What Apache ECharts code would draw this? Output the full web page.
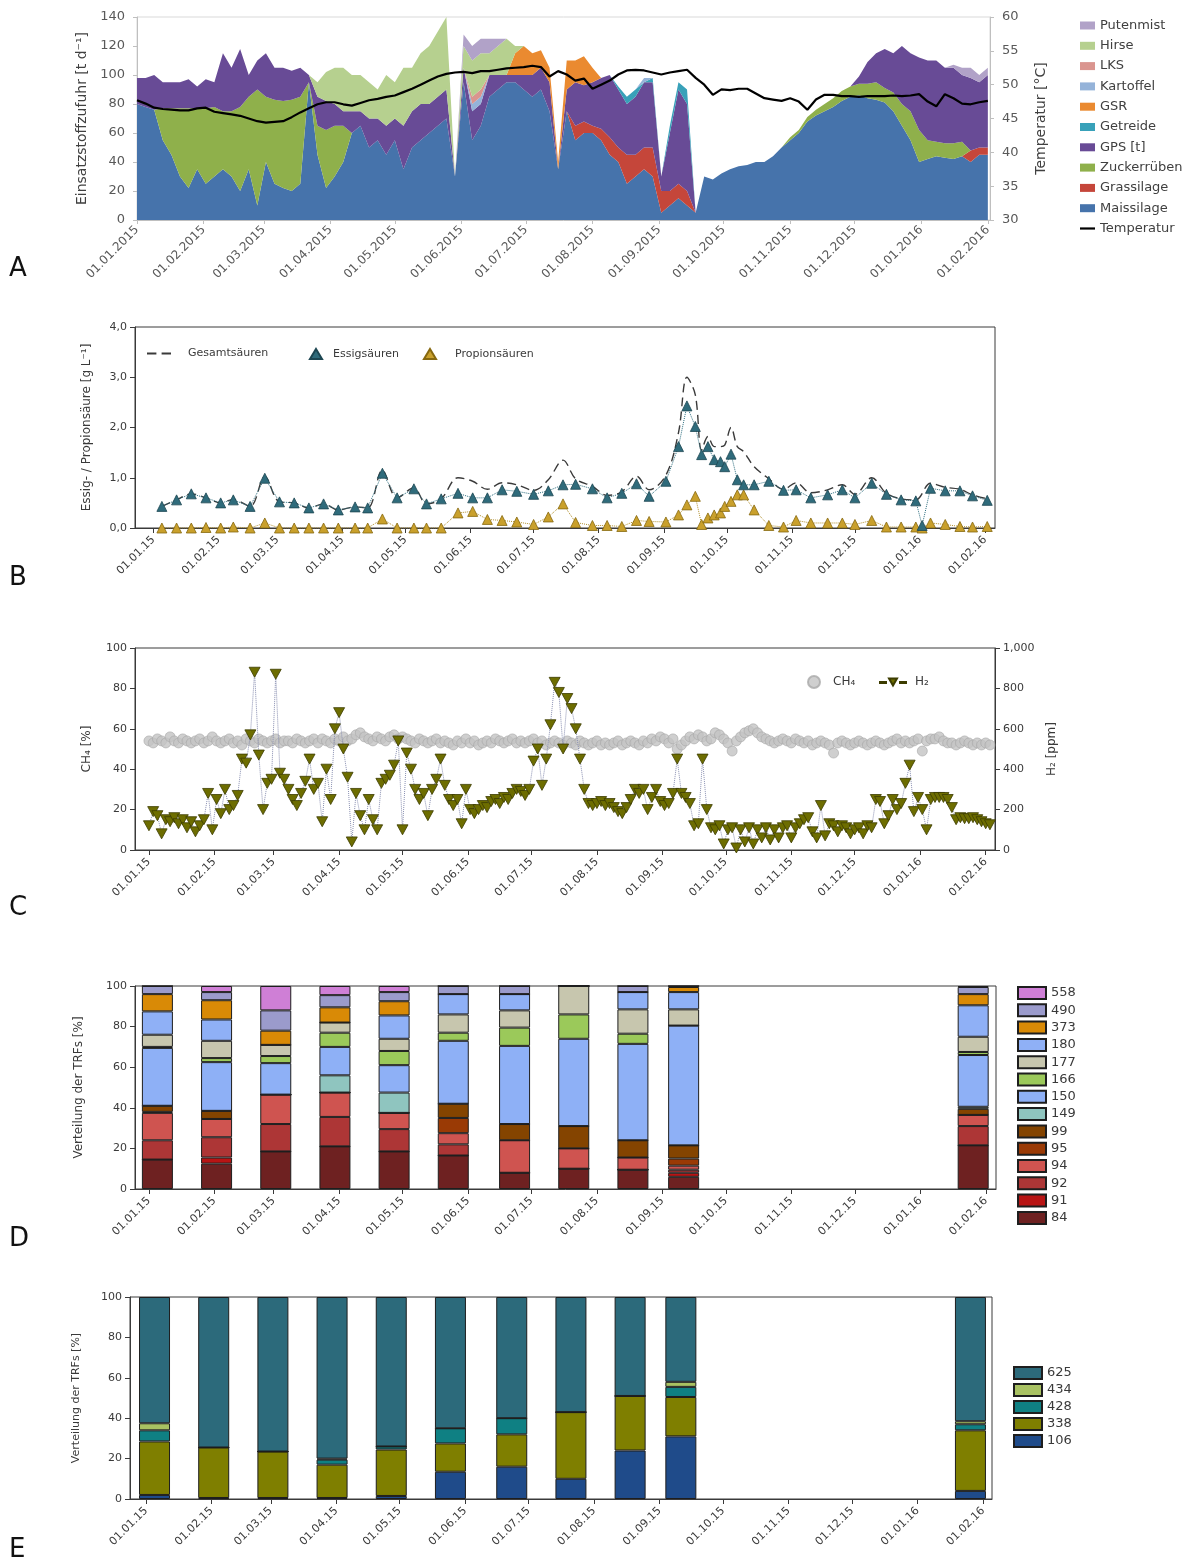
<!DOCTYPE html>
<html><head><meta charset="utf-8">
<script src="https://cdn.jsdelivr.net/npm/echarts@6/dist/echarts.min.js"></script>
<style>html,body{margin:0;padding:0;background:#fff}#c{width:1188px;height:1566px}</style>
</head><body><div id="c"></div>
<script>
// ---------- tick labels (month starts) ----------
const monthTicks = ['2015-01-01','2015-02-01','2015-03-01','2015-04-01','2015-05-01','2015-06-01','2015-07-01',
  '2015-08-01','2015-09-01','2015-10-01','2015-11-01','2015-12-01','2016-01-01','2016-02-01'];

// ---------- Panel A: feedstock input (t/d), sampled every 4 days from 01.01.2015 ----------
const feedStart = '2015-01-01';
const feedStepDays = 4;
const maissilage = [80,78,76,55,45,30,22,35,25,30, 35,30,20,35,10,40,25,22,20,25, 95,45,22,30,40,60,65,50,55,45,
  55,35,50,55,60,65,70,30,95,55, 65,85,90,95,95,90,85,90,75,35, 75,55,60,60,55,45,40,25,30,35,
  30,5,10,15,10,5,30,28,32,35, 37,38,40,40,44,50,55,60,68,72, 75,78,82,85,86,84,83,81,75,65, 55,40,42,44,43,42,44,40,45,45];
const grassilage = [0,0,0,0,0,0,0,0,0,0, 0,0,0,0,0,0,0,0,0,0, 0,0,0,0,0,0,0,0,0,0, 0,0,0,0,0,0,0,0,0,0, 0,0,0,0,0,0,0,0,0,0,
  0,10,8,5,8,12,10,20,15,15, 20,15,10,10,10,0,0,0,0,0, 0,0,0,0,0,0,0,0,0,0, 0,0,0,0,0,0,0,0,0,0, 0,0,0,0,0,0,0,8,5,5];
const zuckerrueben = [0,0,0,22,32,47,55,42,52,48, 40,45,58,50,80,45,58,60,63,60, 0,20,40,35,25,0,0,0,0,0, 0,0,0,0,0,0,0,0,0,0,
  0,0,0,0,0,0,0,0,0,0, 0,0,0,0,0,0,0,0,0,0, 0,0,0,0,0,0,0,0,0,0, 0,0,0,0,0,0,2,2,3,4, 5,6,7,7,8,10,12,10,13,15, 20,22,13,10,10,11,10,0,0,0];
const gps = [18,20,24,18,18,18,20,15,20,17, 40,30,40,15,20,30,22,23,20,20, 5,20,20,15,10,15,10,20,15,20, 15,30,25,25,20,20,20,0,10,20,
  15,15,10,5,5,10,15,15,20,0, 15,30,25,30,35,43,40,35,40,45, 45,10,40,65,60,0,0,0,0,0, 0,0,0,0,0,0,0,0,0,0, 0,0,0,0,5,15,20,27,27,40, 40,50,55,56,52,52,46,50,45,50];
const getreide = [0,0,0,0,0,0,0,0,0,0, 0,0,0,0,0,0,0,0,0,0, 0,0,0,0,0,0,0,0,0,0, 0,0,0,0,0,0,0,0,0,0, 0,0,0,0,0,0,0,0,0,0,
  0,0,0,0,0,0,2,5,5,0, 3,0,5,5,10,0,0,0,0,0, 0,0,0,0,0,0,0,0,0,0, 0,0,0,0,0,0,0,0,0,0, 0,0,0,0,0,0,0,0,0,0];
const gsr = [0,0,0,0,0,0,0,0,0,0, 0,0,0,0,0,0,0,0,0,0, 0,0,0,0,0,0,0,0,0,0, 0,0,0,0,0,0,0,0,0,0, 0,0,0,0,15,20,15,12,10,5,
  20,15,20,10,0,0,0,0,0,0, 0,0,0,0,0,0,0,0,0,0, 0,0,0,0,0,0,0,0,0,0, 0,0,0,0,0,0,0,0,0,0, 0,0,0,0,0,0,0,0,0,0];
const kartoffel = [0,0,0,0,0,0,0,0,0,0, 0,0,0,0,0,0,0,0,0,0, 0,0,0,0,0,0,0,0,0,0, 0,0,0,0,0,0,0,0,0,5, 5,0,0,0,0,0,0,0,0,0,
  0,0,0,0,0,0,0,0,0,3, 0,0,0,0,0,0,0,0,0,0, 0,0,0,0,0,0,0,0,0,0, 0,0,0,0,0,0,0,0,0,0, 0,0,0,0,0,0,0,0,0,0];
const lks = [0,0,0,0,0,0,0,0,0,0, 0,0,0,0,0,0,0,0,0,0, 0,0,0,0,0,0,0,0,0,0, 0,0,0,0,0,0,0,0,0,5, 5,0,0,0,0,0,0,0,0,0,
  0,0,0,0,0,0,0,0,0,0, 0,0,0,0,0,0,0,0,0,0, 0,0,0,0,0,0,0,0,0,0, 0,0,0,0,0,0,0,0,0,0, 0,0,0,0,0,0,0,0,0,0];
const hirse = [0,0,0,0,0,0,0,0,0,0, 0,0,0,0,0,0,0,0,0,0, 0,10,20,25,30,25,25,25,20,35, 25,40,30,35,40,45,50,0,15,25,
  25,15,20,25,5,0,0,0,0,0, 0,0,0,0,0,0,0,0,0,0, 0,0,0,0,0,0,0,0,0,0, 0,0,0,0,0,0,0,0,0,0, 0,0,0,0,0,0,0,0,0,0, 0,0,0,0,0,0,0,0,0,0];
const putenmist = [0,0,0,0,0,0,0,0,0,0, 0,0,0,0,0,0,0,0,0,0, 0,0,0,0,0,0,0,0,0,0, 0,0,0,0,0,0,0,0,8,10,
  10,10,5,0,0,0,0,0,0,0, 0,0,0,0,0,0,0,0,0,0, 0,0,0,0,0,0,0,0,0,0, 0,0,0,0,0,0,0,0,0,0, 0,0,0,0,0,0,0,0,0,0, 0,0,0,0,0,2,5,7,5,5];
const temperatur = [47.7,47.2,46.6,46.4,46.3,46.2,46.2,46.5,46.6,46.0, 45.8,45.6,45.4,45.0,44.6,44.4,44.5,44.6,45.2,45.9,
  46.5,47.1,47.4,47.4,47.1,46.9,47.3,47.7,47.9,48.2, 48.4,48.9,49.4,50.0,50.6,51.2,51.6,51.8,51.9,51.7,
  52.0,52.0,52.2,52.4,52.5,52.6,52.8,52.6,51.2,52.0, 51.5,50.6,50.9,49.4,50.0,50.6,51.5,52.1,52.2,52.1,
  51.8,51.5,51.8,52.0,52.2,51.0,50.0,48.5,49.3,49.2, 49.4,49.4,48.7,48.0,47.8,47.6,48.0,47.5,46.3,47.8,
  48.5,48.5,48.3,48.3,48.2,48.3,48.3,48.3,48.4,48.3, 48.4,48.6,47.5,46.8,48.6,48.0,47.2,47.1,47.4,47.6];

// ---------- Panel B: acids (g/L), sampling day offsets from 01.01.2015 ----------
const acidDays = [4,11,18,25,32,38,46,53,60,67, 74,81,88,96,102,109,116,124,130,137, 145,152,159,166,173,181,188,195,201,209,
  216,223,230,236,244,250,254,258,261,264, 267,270,272,275,278,281,286,293,300,306, 313,321,328,334,342,349,356,363,366,370, 377,384,390,397];
const essigsaeure = [0.43,0.56,0.68,0.60,0.50,0.56,0.43,0.99,0.52,0.50, 0.40,0.48,0.36,0.42,0.40,1.09,0.60,0.78,0.48,0.58,
  0.69,0.60,0.60,0.76,0.73,0.67,0.74,0.86,0.87,0.78, 0.60,0.69,0.88,0.63,0.93,1.62,2.43,2.02,1.46,1.62,
  1.36,1.32,1.22,1.47,0.96,0.86,0.86,0.93,0.75,0.76, 0.60,0.66,0.76,0.60,0.89,0.67,0.56,0.54,0.05,0.79, 0.74,0.74,0.64,0.55];
const propionsaeure = [0,0,0,0.01,0,0.02,0,0.10,0,0, 0,0,0,0,0,0.18,0,0,0,0,
  0.30,0.33,0.17,0.15,0.12,0.07,0.22,0.48,0.11,0.05, 0.05,0.03,0.15,0.13,0.12,0.26,0.46,0.63,0.07,0.20,
  0.26,0.30,0.43,0.53,0.66,0.66,0.36,0.05,0.02,0.15, 0.10,0.10,0.10,0.07,0.15,0.02,0.02,0.02,0,0.10, 0.07,0.03,0.02,0.03];
const gesamtsaeuren = [0.43,0.56,0.68,0.60,0.50,0.57,0.43,1.02,0.52,0.50, 0.40,0.48,0.36,0.42,0.40,1.15,0.60,0.80,0.48,0.58,
  1.00,0.93,0.77,0.90,0.86,0.75,0.96,1.35,0.98,0.83, 0.65,0.72,1.03,0.76,1.05,1.90,3.00,2.65,1.55,1.82,
  1.62,1.62,1.65,2.00,1.62,1.52,1.22,0.98,0.77,0.90, 0.70,0.76,0.86,0.67,1.00,0.69,0.58,0.56,null,0.89, 0.81,0.77,0.66,0.58];

// ---------- Panel C: CH4 (%) and H2 (ppm), every 2 days from 01.01.2015 ----------
const gasStepDays = 2;
const ch4 = [54,53,55,54,53,56,54,53,55,54, 53,54,55,53,54,56,54,53,54,55, 53,54,52,55,54,53,55,54,53,54, 55,53,54,54,53,55,54,53,54,55,
  53,55,54,53,55,54,56,54,55,57, 58,56,55,54,56,55,54,56,57,55, 56,55,54,53,55,54,53,54,55,53, 54,53,52,54,53,55,53,54,52,53,
  54,53,55,54,53,54,55,53,54,53, 54,55,53,54,52,53,54,53,52,54, 53,52,54,53,52,53,54,52,53,52, 53,54,52,53,54,53,52,54,53,55,
  54,56,55,53,55,50,52,54,56,55, 57,56,54,55,58,57,55,53,49,54, 56,58,59,60,58,56,55,54,53,54, 55,54,53,55,54,53,54,52,53,54,
  53,52,48,53,54,53,52,53,54,53, 52,53,54,53,52,53,54,55,53,54, 53,54,55,49,54,55,55,56,54,53, 53,52,53,54,53,52,53,52,53,52];
const h2 = [120,190,170,80,150,140,160,130,150,110, 140,90,120,150,280,100,250,180,300,200, 220,270,450,430,570,880,470,200,330,350,
  870,380,350,300,250,220,280,340,450,300, 330,140,400,250,600,680,500,360,40,280, 170,100,250,150,100,330,350,370,420,540,
  100,480,400,300,250,280,170,300,350,450, 320,250,220,250,130,300,200,180,200,220, 210,240,250,230,260,250,280,300,290,270,
  300,440,500,320,450,620,830,780,500,750, 700,600,450,300,230,220,230,240,220,230, 210,190,180,210,250,300,280,300,200,260,
  300,240,220,230,280,450,280,260,230,120, 130,450,200,110,100,120,30,100,110,10, 100,40,110,30,100,60,110,50,100,60,
  110,120,60,110,130,150,160,90,60,220, 70,130,120,90,120,110,80,100,110,80, 120,110,250,240,130,170,250,200,230,330,
  420,190,260,200,100,250,260,260,260,250, 210,150,160,155,155,160,150,140,130,125];

// ---------- Panel D / E: T-RF distribution (%) ----------
const trfDays = [4,32,60,88,116,144,173,201,229,253,390];
const trfD = {
  '84':  [14.5,12.5,18.5,21,18.5,16.5,8,10,9.5,6,21.5],
  '91':  [0,3,0,0,0,0,0,0,0,2,0],
  '92':  [9.5,10,13.5,14.5,11,5.5,0,0,0,1.5,9.5],
  '94':  [13.5,9,14.5,12,8,5.5,16,10,6,2,5.5],
  '95':  [0.5,0,0,0,0,7.5,0,0,0,3.5,0],
  '99':  [3,4,0,0,0,7,8,11,8.5,6.5,3],
  '149': [0,0,0,8.5,10,0,0,0,0,0,1],
  '150': [28.5,24,15.5,14,13.5,31,38.5,43,47.5,59,25.5],
  '166': [0.5,2,3.5,7,7,4,9,12,5,0,1.5],
  '177': [6,8.5,5.5,5,6,9,8.5,14,12,8,7.5],
  '180': [11.5,10.5,0,0,11.5,10,8,0,8.5,8.5,15.5],
  '373': [8.5,9.5,7,7.5,7,0,0,0,0,2.5,5.5],
  '490': [4,4,10,6,4.5,4,4,0,3,0.5,3.5],
  '558': [0,3,12,4.5,3,0,0,0,0,0,0.5]
};
const trfDOrder = ['84','91','92','94','95','99','149','150','166','177','180','373','490','558'];
const trfDColors = {'84':'#6e2121','91':'#b81414','92':'#ad3636','94':'#cf5450','95':'#9a3a05','99':'#844400',
  '149':'#8fc5bf','150':'#8eb0f6','166':'#9bc95a','177':'#c7c6ae','180':'#8fb0f6','373':'#d98a06','490':'#9b9bcc','558':'#cf7fd6'};
const trfE = {
  '106': [2,0.5,0.5,0.5,1.5,13.5,16,10,24,31,4],
  '338': [26.5,25,23,16.5,23,14,16,33,27,19.5,30],
  '428': [5.5,0,0,2.5,1.5,7.5,8,0,0,5,3],
  '434': [3.5,0,0,0.5,0,0,0,0,0,2.5,1.5],
  '625': [62.5,74.5,76.5,80,74,65,60,57,49,42,61.5]
};
const trfEOrder = ['106','338','428','434','625'];
const trfEColors = {'106':'#1f4b8a','338':'#7f7f00','428':'#0f8083','434':'#a9c262','625':'#2c6a7b'};

// ---------- helpers ----------
const FONT = 'DejaVu Sans';
const DAY = 86400000;
function ts(s){const p=s.split('-').map(Number);return new Date(p[0],p[1]-1,p[2]).getTime();}
const T0 = ts(feedStart);
const dayTs = d => T0 + d*DAY;
const tickTs = monthTicks.map(ts);
function fmtDate(v,longYear){const d=new Date(v+6*3600000);const dd=String(d.getDate()).padStart(2,'0');const mm=String(d.getMonth()+1).padStart(2,'0');
  const y=String(d.getFullYear());return dd+'.'+mm+'.'+(longYear?y:y.slice(2));}

const BAR_W = 31;
// visible month axis (value scale, custom ticks at month starts)
function xAx(grid,minD,maxD,longYear,col,fs,margin){
  return {type:'value',gridIndex:grid,min:dayTs(minD),max:dayTs(maxD),
    axisLine:{show:true,onZero:false,lineStyle:{color:col,width:1}},
    axisTick:{show:true,length:longYear?4:5,customValues:tickTs,lineStyle:{color:col}},
    axisLabel:{customValues:tickTs,rotate:45,formatter:v=>fmtDate(v,longYear),fontSize:fs,color:longYear?'#595959':'#3a3a3a',fontFamily:FONT,margin:margin},
    splitLine:{show:false}};
}
// hidden time axis with the same extent (used by the stacked series).
// For bar series ECharts widens a time axis by half a bar on each side, so the extent is pre-shrunk by that amount.
function xTime(grid,minD,maxD,plotW,barW){
  const pad = barW ? (maxD-minD)*(barW/2)/plotW : 0;
  return {type:'time',gridIndex:grid,min:dayTs(minD+pad),max:dayTs(maxD-pad),show:false,
    axisLine:{show:false},axisTick:{show:false},axisLabel:{show:false},splitLine:{show:false}};
}
function yAx(grid,min,max,intv,name,gap,opts){
  return Object.assign({type:'value',gridIndex:grid,min:min,max:max,interval:intv,
    axisLine:{show:true,lineStyle:{color:'#3a3a3a'}},axisTick:{show:true,length:5,lineStyle:{color:'#3a3a3a'}},
    axisLabel:{fontSize:11,color:'#3a3a3a',fontFamily:FONT,margin:8},splitLine:{show:false},
    name:name,nameLocation:'middle',nameGap:gap,nameTextStyle:{fontSize:12,color:'#3a3a3a',fontFamily:FONT}},opts||{});
}

const feedDays = maissilage.map((_,i)=>i*feedStepDays);
const feedLayers = [
  ['Maissilage',maissilage,'#4673ab'],['Grassilage',grassilage,'#c5463a'],['Zuckerrüben',zuckerrueben,'#8fb04b'],
  ['GPS [t]',gps,'#684b96'],['Getreide',getreide,'#38a1b9'],['GSR',gsr,'#ea8a30'],['Kartoffel',kartoffel,'#95b3d9'],
  ['LKS',lks,'#da958f'],['Hirse',hirse,'#b6d08f'],['Putenmist',putenmist,'#b1a2c8']];

const series = [];
feedLayers.forEach(([name,arr,col])=>{
  series.push({type:'line',name:name,xAxisIndex:5,yAxisIndex:0,stack:'feed',symbol:'none',silent:true,
    data:feedDays.map((d,i)=>[dayTs(d),arr[i]]),lineStyle:{width:0},itemStyle:{color:col},areaStyle:{color:col,opacity:1}});
});
series.push({type:'line',name:'Temperatur',xAxisIndex:5,yAxisIndex:1,symbol:'none',z:5,
  data:feedDays.map((d,i)=>[dayTs(d),temperatur[i]]),lineStyle:{color:'#000',width:2.2},itemStyle:{color:'#000'}});

// Panel B
series.push({type:'line',name:'Gesamtsäuren',xAxisIndex:1,yAxisIndex:2,symbol:'none',smooth:0.35,connectNulls:true,
  data:acidDays.map((d,i)=>[dayTs(d),gesamtsaeuren[i]]).filter(p=>p[1]!==null),
  lineStyle:{color:'#3a3a3a',width:1.4,type:[9,5]},itemStyle:{color:'#3a3a3a'}});
series.push({type:'line',name:'Essigsäuren',xAxisIndex:1,yAxisIndex:2,symbol:'triangle',symbolSize:10,z:4,
  data:acidDays.map((d,i)=>[dayTs(d),essigsaeure[i]]),
  lineStyle:{color:'#2f6f80',width:1,type:'dotted'},itemStyle:{color:'#2f6b7b',borderColor:'#1d4652',borderWidth:0.8}});
series.push({type:'line',name:'Propionsäuren',xAxisIndex:1,yAxisIndex:2,symbol:'triangle',symbolSize:10,z:3,
  data:acidDays.map((d,i)=>[dayTs(d),propionsaeure[i]]),
  lineStyle:{color:'#b08f2c',width:1,type:'dotted'},itemStyle:{color:'#c9a02c',borderColor:'#86680f',borderWidth:0.8}});

// Panel C
const gasDays = ch4.map((_,i)=>i*gasStepDays);
series.push({type:'scatter',name:'CH₄',xAxisIndex:2,yAxisIndex:3,symbol:'circle',symbolSize:10,z:2,
  data:gasDays.map((d,i)=>[dayTs(d),ch4[i]]),itemStyle:{color:'#c3c3c3',borderColor:'#a9a9a9',borderWidth:0.8}});
series.push({type:'line',name:'H₂',xAxisIndex:2,yAxisIndex:4,symbol:'path://M0,0 L20,0 L10,18 Z',symbolSize:[11,10],z:4,
  data:gasDays.map((d,i)=>[dayTs(d),h2[i]]),
  lineStyle:{color:'#8a90b2',width:1,type:'dotted'},itemStyle:{color:'#6d6d00',borderColor:'#3c3c00',borderWidth:0.8}});

// Panel D
trfDOrder.forEach(k=>{
  series.push({type:'bar',name:k,xAxisIndex:6,yAxisIndex:5,stack:'trfD',barWidth:BAR_W,
    data:trfDays.map((d,i)=>[dayTs(d),trfD[k][i]]),itemStyle:{color:trfDColors[k],borderColor:'#1e1e1e',borderWidth:1}});
});
// Panel E
trfEOrder.forEach(k=>{
  series.push({type:'bar',name:k,xAxisIndex:7,yAxisIndex:6,stack:'trfE',barWidth:BAR_W,
    data:trfDays.map((d,i)=>[dayTs(d),trfE[k][i]]),itemStyle:{color:trfEColors[k],borderColor:'#1e1e1e',borderWidth:1}});
});

const legTxt = (fs,col)=>({fontSize:fs,color:col,fontFamily:FONT});
const dashIcon = 'path://M0,4 L9,4 L9,6 L0,6 Z M14,4 L23,4 L23,6 L14,6 Z';
const lineIcon = 'path://M0,4 L15,4 L15,6.2 L0,6.2 Z';
const h2Icon = 'path://M0,4.5h2v1h-2z M4,4.5h2v1h-2z M9,1 L17,1 L13,8 Z M20,4.5h2v1h-2z M24,4.5h2v1h-2z';
const option = {
  animation:false,
  backgroundColor:'#ffffff',
  grid:[
    {left:137,top:17,width:853,height:203,show:true,borderColor:'#d9d9d9',borderWidth:1},
    {left:135,top:327,width:860,height:201,show:true,borderColor:'#3a3a3a',borderWidth:1},
    {left:135,top:648,width:860,height:202,show:true,borderColor:'#3a3a3a',borderWidth:1},
    {left:135,top:986,width:861,height:203,show:true,borderColor:'#3a3a3a',borderWidth:1},
    {left:130,top:1297,width:862,height:202,show:true,borderColor:'#3a3a3a',borderWidth:1}
  ],
  xAxis:[
    xAx(0,0,397,true,'#bfbfbf',12,8),
    xAx(1,-8.8,400.7,false,'#3a3a3a',11,10),
    xAx(2,-6.6,400.4,false,'#3a3a3a',11,10),
    xAx(3,-6.6,400.8,false,'#3a3a3a',11,10),
    xAx(4,-7.6,400.2,false,'#3a3a3a',11,10),
    xTime(0,0,397,853,0),
    xTime(3,-6.6,400.8,861,BAR_W),
    xTime(4,-7.6,400.2,862,BAR_W)
  ],
  yAxis:[
    yAx(0,0,140,20,'Einsatzstoffzufuhr [t d⁻¹]',48,{axisLine:{show:true,lineStyle:{color:'#bfbfbf'}},axisTick:{show:true,length:4,lineStyle:{color:'#bfbfbf'}},
      axisLabel:{fontSize:13,color:'#595959',fontFamily:FONT,margin:12},nameTextStyle:{fontSize:14,color:'#404040',fontFamily:FONT}}),
    yAx(0,30,60,5,'Temperatur [°C]',44,{position:'right',axisLine:{show:true,lineStyle:{color:'#bfbfbf'}},axisTick:{show:true,length:4,lineStyle:{color:'#bfbfbf'}},
      axisLabel:{fontSize:13,color:'#595959',fontFamily:FONT,margin:12},nameTextStyle:{fontSize:14,color:'#404040',fontFamily:FONT}}),
    yAx(1,0,4,1,'Essig- / Propionsäure [g L⁻¹]',42,{axisLabel:{fontSize:11,color:'#3a3a3a',fontFamily:FONT,margin:8,formatter:v=>v.toFixed(1).replace('.',',')}}),
    yAx(2,0,100,20,'CH₄ [%]',42),
    yAx(2,0,1000,200,'H₂ [ppm]',46,{position:'right'}),
    yAx(3,0,100,20,'Verteilung der TRFs [%]',50),
    yAx(4,0,100,20,'Verteilung der TRFs [%]',48,{nameTextStyle:{fontSize:11,color:'#3a3a3a',fontFamily:FONT}})
  ],
  legend:[
    {orient:'vertical',left:1075,top:13,itemWidth:15,itemHeight:8,itemGap:5.3,textStyle:Object.assign(legTxt(13,'#404040'),{lineHeight:15}),selectedMode:false,
      data:['Putenmist','Hirse','LKS','Kartoffel','GSR','Getreide','GPS [t]','Zuckerrüben','Grassilage','Maissilage'].map(n=>({name:n,icon:'rect'})).concat([{name:'Temperatur',icon:lineIcon}])},
    {left:142,top:343,itemWidth:24,itemHeight:10,selectedMode:false,textStyle:Object.assign(legTxt(11,'#3a3a3a'),{padding:[0,0,0,12]}),data:[{name:'Gesamtsäuren',icon:dashIcon}]},
    {left:304,top:343,itemWidth:12,itemHeight:10,selectedMode:false,textStyle:Object.assign(legTxt(11,'#3a3a3a'),{padding:[0,0,0,6]}),data:[{name:'Essigsäuren',icon:'triangle'}]},
    {left:418,top:343,itemWidth:12,itemHeight:10,selectedMode:false,textStyle:Object.assign(legTxt(11,'#3a3a3a'),{padding:[0,0,0,14]}),data:[{name:'Propionsäuren',icon:'triangle'}]},
    {left:802,top:670,itemWidth:12,itemHeight:12,selectedMode:false,textStyle:Object.assign(legTxt(12,'#3a3a3a'),{padding:[0,0,0,8]}),data:['CH₄']},
    {left:874,top:671,itemWidth:26,itemHeight:9,selectedMode:false,textStyle:Object.assign(legTxt(12,'#3a3a3a'),{padding:[0,0,0,4]}),data:[{name:'H₂',icon:h2Icon}]},
    {orient:'vertical',left:1012,top:981,itemWidth:28,itemHeight:12,itemGap:3.3,selectedMode:false,textStyle:Object.assign(legTxt(13,'#3a3a3a'),{lineHeight:12}),
      data:trfDOrder.slice().reverse().map(n=>({name:n,icon:'rect'}))},
    {orient:'vertical',left:1008,top:1361,itemWidth:28,itemHeight:12,itemGap:3,selectedMode:false,textStyle:Object.assign(legTxt(13,'#3a3a3a'),{lineHeight:12}),
      data:trfEOrder.slice().reverse().map(n=>({name:n,icon:'rect'}))}
  ],
  graphic:[
    {type:'text',left:9,top:256,style:{text:'A',font:'26px "DejaVu Sans"',fill:'#111'}},
    {type:'text',left:9,top:565,style:{text:'B',font:'26px "DejaVu Sans"',fill:'#111'}},
    {type:'text',left:9,top:895,style:{text:'C',font:'26px "DejaVu Sans"',fill:'#111'}},
    {type:'text',left:9,top:1226,style:{text:'D',font:'26px "DejaVu Sans"',fill:'#111'}},
    {type:'text',left:9,top:1537,style:{text:'E',font:'26px "DejaVu Sans"',fill:'#111'}}
  ],
  series:series
};
const chart = echarts.init(document.getElementById('c'),null,{renderer:'canvas'});
chart.setOption(option);
</script></body></html>
